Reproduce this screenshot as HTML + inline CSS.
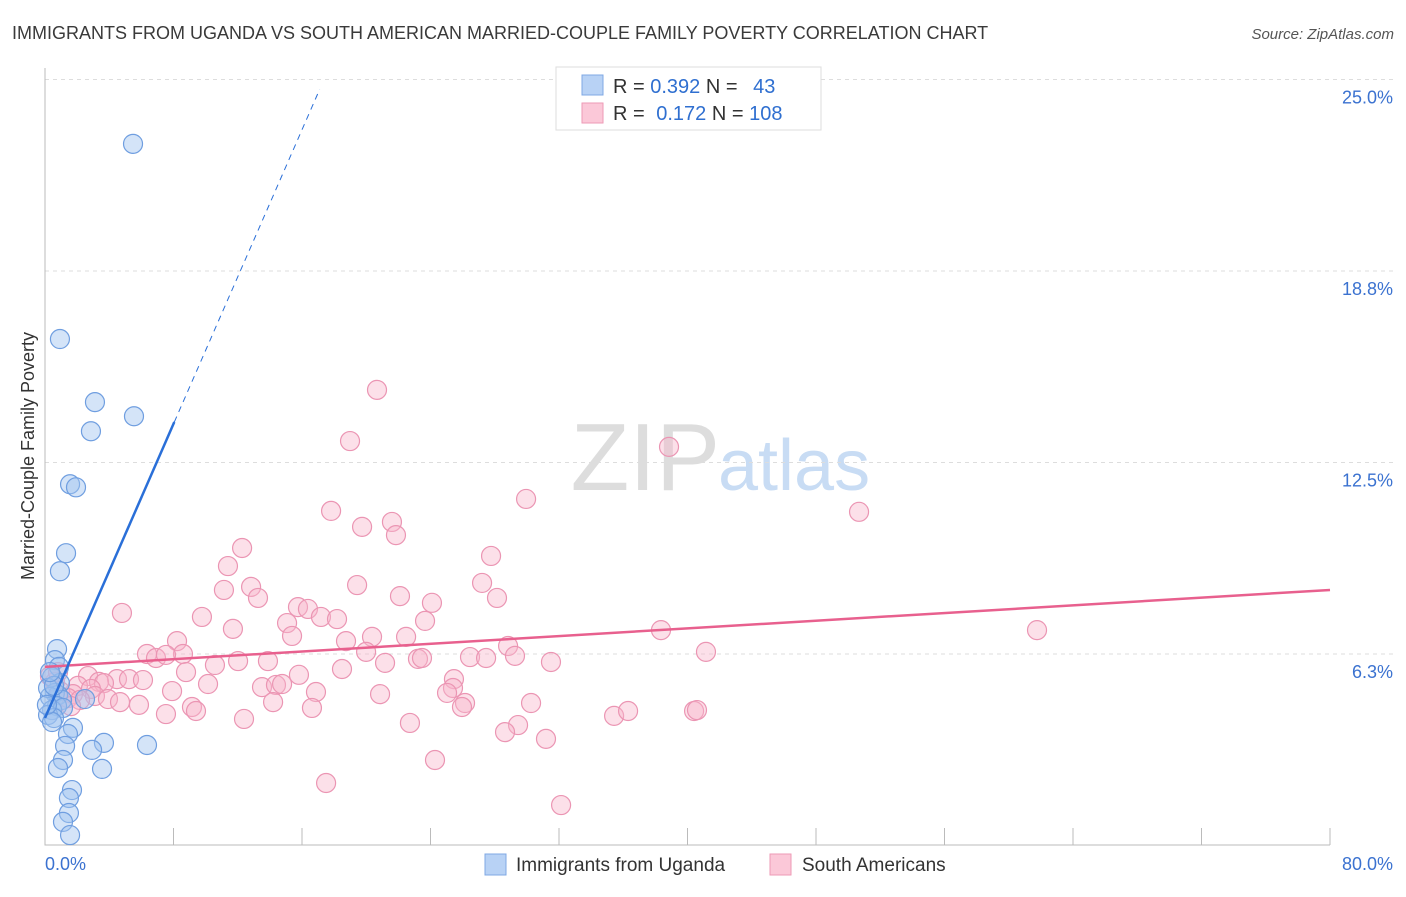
<!DOCTYPE html>
<html><head><meta charset="utf-8"><style>
body{margin:0;background:#fff;font-family:"Liberation Sans",sans-serif;}
svg text{font-family:"Liberation Sans",sans-serif;}
</style></head><body>
<svg id="chart" width="1406" height="892" xmlns="http://www.w3.org/2000/svg">
<text x="12" y="39" font-size="18" fill="#3a3a3a">IMMIGRANTS FROM UGANDA VS SOUTH AMERICAN MARRIED-COUPLE FAMILY POVERTY CORRELATION CHART</text>
<text x="1394" y="39" font-size="15" fill="#555" font-style="italic" text-anchor="end">Source: ZipAtlas.com</text>
<text x="720" y="490" font-size="96" fill="#ddd" text-anchor="end" font-family="Liberation Serif">ZIP</text>
<text x="718" y="490" font-size="72" fill="#c8dcf4">atlas</text>
<g id="grid"></g>
<g id="axes"></g>
<g id="marks"></g>
<text transform="translate(34,456) rotate(-90)" font-size="18" fill="#333" text-anchor="middle">Married-Couple Family Poverty</text>
<g>
<rect x="556" y="67" width="265" height="63" fill="#fff" stroke="#ddd"/>
<rect x="582" y="75" width="21" height="20" fill="#b8d2f5" stroke="#7fa8e4"/>
<rect x="582" y="103" width="21" height="20" fill="#fbc8d8" stroke="#ee9ab6"/>
<text x="613" y="93" font-size="20" fill="#333">R = <tspan fill="#2f6fd0">0.392</tspan>   N = <tspan fill="#2f6fd0" dx="10">43</tspan></text>
<text x="613" y="120" font-size="20" fill="#333">R =  <tspan fill="#2f6fd0" dx="6">0.172</tspan>   N = <tspan fill="#2f6fd0">108</tspan></text>
</g>
<g>
<rect x="485" y="854" width="21" height="21" fill="#b8d2f5" stroke="#7fa8e4"/>
<text x="516" y="871" font-size="19" fill="#333">Immigrants from Uganda</text>
<rect x="770" y="854" width="21" height="21" fill="#fbc8d8" stroke="#ee9ab6"/>
<text x="802" y="871" font-size="19" fill="#333">South Americans</text>
</g>
</svg>
<script>
const xTicksPct=[0,80];
const yTicks=[6.3,12.5,18.8,25.0];
const yGrid=[6.25,12.5,18.75,25.0];
const blueX=[5.48,0.93,3.11,5.54,2.86,1.56,1.93,1.31,0.93,0.75,0.62,0.87,0.93,0.44,0.62,0.81,0.31,1.06,2.49,0.75,0.44,1.12,0.19,0.56,0.44,1.74,1.43,3.67,1.25,6.35,2.93,1.12,0.81,3.55,1.68,1.49,1.49,1.12,1.56,0.19,0.56,0.31,0.12];
const blueY=[22.90,16.53,14.47,14.01,13.52,11.79,11.69,9.54,8.95,6.41,6.05,5.83,5.30,5.50,4.98,4.91,4.85,4.75,4.78,4.55,4.42,4.49,4.26,4.16,4.03,3.84,3.64,3.35,3.25,3.28,3.12,2.79,2.53,2.50,1.81,1.55,1.06,0.77,0.34,5.14,5.21,5.66,4.59];
const pinkX=[20.67,18.99,38.85,29.95,17.81,50.68,19.74,21.60,21.85,27.77,12.27,11.39,19.43,27.21,12.83,11.14,13.26,22.10,28.14,24.09,4.79,9.77,15.75,16.37,17.18,18.18,23.66,15.07,11.70,61.76,38.35,15.38,8.22,20.36,22.48,18.74,28.83,6.35,8.59,19.99,29.26,41.15,6.91,7.53,12.02,13.88,26.46,27.46,23.22,23.47,31.50,10.58,8.78,18.49,21.17,15.81,2.68,4.48,3.36,5.23,6.10,25.46,3.67,10.15,13.51,14.38,14.76,25.40,7.91,16.87,20.86,25.03,2.05,1.74,2.86,3.11,3.92,4.67,14.20,26.15,30.26,5.85,9.15,9.40,7.53,16.62,25.96,12.39,22.72,35.43,36.30,40.41,40.59,29.45,28.64,31.19,24.28,17.50,32.13,0.93,0.62,1.43,0.31,0.81,2.18,1.62];
const pinkY=[14.87,13.20,13.01,11.31,10.92,10.89,10.40,10.56,10.13,9.45,9.71,9.12,8.50,8.57,8.44,8.34,8.08,8.14,8.08,7.92,7.59,7.46,7.78,7.72,7.46,7.39,7.33,7.26,7.07,7.03,7.03,6.84,6.67,6.81,6.81,6.67,6.51,6.25,6.25,6.32,6.19,6.32,6.12,6.22,6.02,6.02,6.15,6.12,6.09,6.12,5.99,5.89,5.66,5.76,5.96,5.57,5.53,5.43,5.34,5.43,5.40,5.43,5.30,5.27,5.17,5.24,5.27,5.14,5.04,5.01,4.94,4.98,5.21,4.94,5.11,4.88,4.78,4.68,4.68,4.65,4.65,4.59,4.52,4.39,4.29,4.49,4.52,4.13,4.00,4.23,4.39,4.39,4.42,3.93,3.70,3.48,2.79,2.04,1.32,5.04,5.34,4.81,5.53,5.66,4.75,4.55];
const blueTrend=[4.16,1.2]; // intercept, slope per %
const pinkTrend=[5.83,8.34]; // y at x=0, y at x=80
const NS="http://www.w3.org/2000/svg";
const X=v=>45+v/80*1285;
const Y=v=>845.5-v/6.25*191.5;
function mk(tag,attrs,parent){const e=document.createElementNS(NS,tag);for(const k in attrs)e.setAttribute(k,attrs[k]);parent.appendChild(e);return e;}
const grid=document.getElementById('grid'),axes=document.getElementById('axes'),marks=document.getElementById('marks');
yGrid.forEach((g,i)=>{
 const l=mk('line',{x1:45,x2:1394,y1:Y(g),y2:Y(g),stroke:'#ddd','stroke-dasharray':'4,4'},grid);
 
 
 const t=mk('text',{x:1393,y:Y(g)+24,'font-size':18,fill:'#3b72d0','text-anchor':'end'},grid);
 t.textContent=yTicks[i].toFixed(1)+'%';
 
 
});
const ax=mk('path',{d:'M45,68 V845 H1330',stroke:'#bbb',fill:'none'},axes);


for(let i=1;i<=10;i++){
 const tk=mk('line',{x1:X(i*8),x2:X(i*8),y1:828,y2:845,stroke:'#bbb'},axes);
 
 
}
xTicksPct.forEach((v,i)=>{
 const t=mk('text',{x:i?1393:45,y:870,'font-size':18,fill:'#3b72d0','text-anchor':i?'end':'start'},axes);
 t.textContent=v.toFixed(1)+'%';
 
 
});
pinkX.forEach((v,i)=>{
 const c=mk('circle',{cx:X(v),cy:Y(pinkY[i]),r:9.5,fill:'rgba(248,182,202,0.42)',stroke:'#eb95b3','stroke-width':1.2},marks);
 
 
});
blueX.forEach((v,i)=>{
 const c=mk('circle',{cx:X(v),cy:Y(blueY[i]),r:9.5,fill:'rgba(160,196,240,0.45)',stroke:'#6f9ee0','stroke-width':1.2},marks);
 
 
});
const pl=mk('line',{x1:X(0),y1:Y(pinkTrend[0]),x2:X(80),y2:Y(pinkTrend[1]),stroke:'#e8608e','stroke-width':2.5},marks);


const bs=mk('line',{x1:X(0),y1:Y(blueTrend[0]),x2:X(8.05),y2:Y(blueTrend[0]+blueTrend[1]*8.05),stroke:'#2a6fd8','stroke-width':2.5},marks);


const bd=mk('line',{x1:X(8.05),y1:Y(blueTrend[0]+blueTrend[1]*8.05),x2:X(17.1),y2:Y(blueTrend[0]+blueTrend[1]*17.1),stroke:'#2a6fd8','stroke-width':1,'stroke-dasharray':'6,5'},marks);


</script>
</body></html>
